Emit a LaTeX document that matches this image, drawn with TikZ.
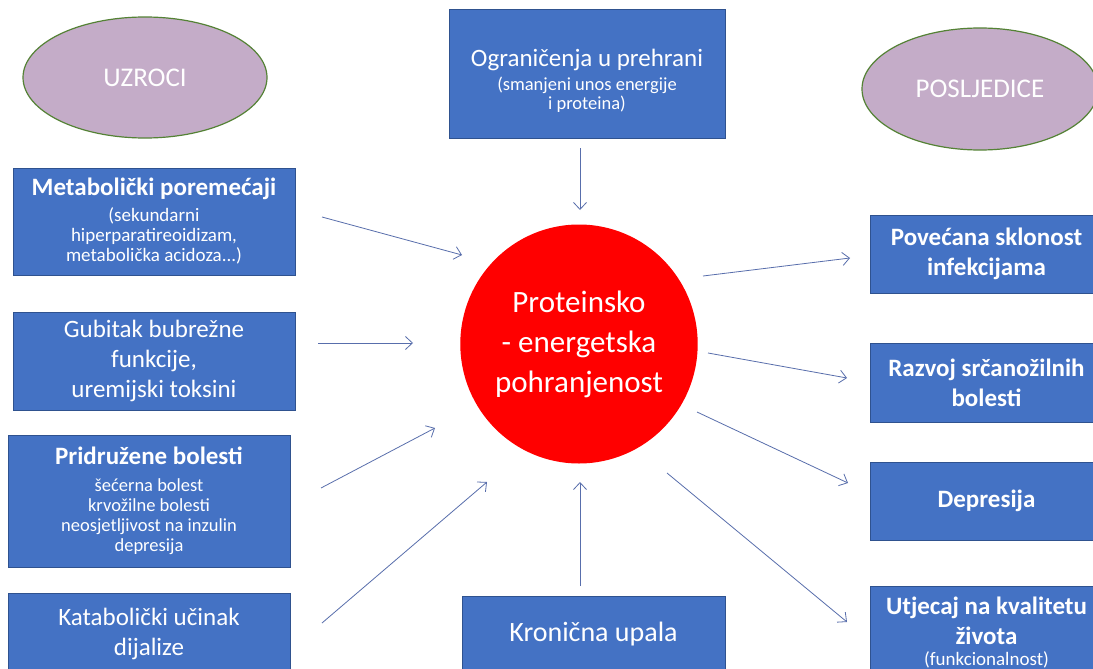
\documentclass[tikz,border=0pt]{standalone}
\usepackage{fontspec}
\setmainfont{Carlito}
\usetikzlibrary{arrows.meta,shapes.geometric}
\definecolor{boxfill}{HTML}{4472C4}
\definecolor{boxdraw}{HTML}{2F528F}
\definecolor{ellfill}{RGB}{196,172,200}
\definecolor{elldraw}{HTML}{548235}
\definecolor{arrcol}{RGB}{88,110,172}
\definecolor{circfill}{HTML}{FF0000}
\newcommand\myT{\fontsize{25}{30}\selectfont}
\newcommand\myS{\fontsize{19}{20}\selectfont}
\begin{document}
\begin{tikzpicture}[x=1pt,y=-1pt,
  box/.style={draw=boxdraw,line width=1pt,fill=boxfill,text=white,align=center,inner sep=0pt},
  ell/.style={ellipse,draw=elldraw,line width=1.2pt,fill=ellfill,text=white,inner sep=0pt,font=\fontsize{27}{32}\selectfont},
  arr/.style={draw=arrcol,line width=0.8pt,-{Straight Barb[length=7pt,width=13pt]}},
  ttl/.style={font=\myT},
  bttl/.style={font=\bfseries\myT},
]
\clip (0,0) rectangle (1093,669);
\fill[white] (0,0) rectangle (1093,669);

% ellipses
\node[ell,minimum width=244pt,minimum height=121pt] (uzroci) at (145,77.5) {UZROCI};
\node[ell,minimum width=236pt,minimum height=122pt] (posljedice) at (980,89) {POSLJEDICE};

% top box
\node[box,font=\fontsize{18.5}{19}\selectfont,minimum width=276pt,minimum height=128pt] (ogr) at (587,74)
  {{\myT\rule{0pt}{30pt}Ograničenja u prehrani}\\[5pt](smanjeni unos energije\\ i proteina)};

% left boxes
\node[box,font=\myS,minimum width=282pt,minimum height=107pt] (met) at (154,221.5)
  {{\bfseries\myT Metabolički poremećaji}\\[6pt](sekundarni\\ hiperparatireoidizam,\\ metabolička acidoza...)};
\node[box,ttl,minimum width=282pt,minimum height=98pt] (gub) at (154,361)
  {Gubitak bubrežne\\ funkcije,\\ uremijski toksini};
\node[box,font=\fontsize{18.5}{20}\selectfont,minimum width=282pt,minimum height=132pt] (pri) at (149,501)
  {{\bfseries\myT Pridružene bolesti}\\[7pt]šećerna bolest\\ krvožilne bolesti\\ neosjetljivost na inzulin\\ depresija};
\node[box,ttl,minimum width=282pt,minimum height=82pt] (kat) at (149,634)
  {Katabolički učinak\\ dijalize};

% bottom box
\node[box,font=\fontsize{28}{33}\selectfont,minimum width=263pt,minimum height=76pt] (kro) at (593.5,634)
  {Kronična upala};

% centre
\node[ellipse,fill=circfill,text=white,inner sep=0pt,minimum width=228pt,minimum height=239pt,align=center,
      font=\fontsize{31}{40}\selectfont] (pep) at (579,344)
  {Proteinsko\\ - energetska\\ pohranjenost};

% right boxes
\node[box,bttl,minimum width=233pt,minimum height=78pt] (pov) at (986.5,254)
  {Povećana sklonost\\ infekcijama};
\node[box,bttl,minimum width=233pt,minimum height=79pt] (raz) at (986.5,382.5)
  {Razvoj srčanožilnih\\ bolesti};
\node[box,bttl,minimum width=233pt,minimum height=78pt] (dep) at (986.5,501)
  {Depresija};
\node[box,bttl,minimum width=233pt,minimum height=94pt] (utj) at (986.5,633)
  {Utjecaj na kvalitetu\\ života\\[-9pt]{\mdseries\fontsize{19}{22}\selectfont (funkcionalnost)}};

% arrow end points
\coordinate (ogrS) at (580,148);  \coordinate (ogrE) at (580,210);
\coordinate (metS) at (322,217);  \coordinate (metE) at (462,255);
\coordinate (gubS) at (318,343);  \coordinate (gubE) at (413,343);
\coordinate (priS) at (321,488);  \coordinate (priE) at (435,428);
\coordinate (katS) at (322,623);  \coordinate (katE) at (487,482);
\coordinate (kroS) at (580,586);  \coordinate (kroE) at (580,482);
\coordinate (povS) at (703,276);  \coordinate (povE) at (850,258);
\coordinate (razS) at (708,353);  \coordinate (razE) at (847,378);
\coordinate (depS) at (697,412);  \coordinate (depE) at (848,483);
\coordinate (utjS) at (667,473);  \coordinate (utjE) at (847,622);

\foreach \a in {ogr,met,gub,pri,kat,kro,pov,raz,dep,utj}
  \draw[arr] (\a S) -- (\a E);
\end{tikzpicture}
\end{document}
